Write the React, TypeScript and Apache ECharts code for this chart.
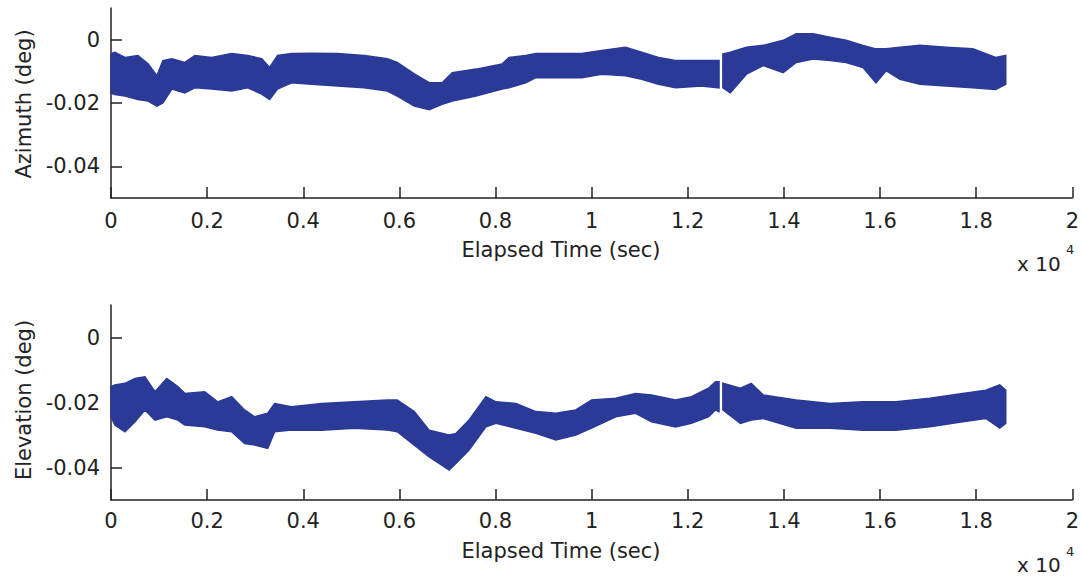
import React, { useEffect, useRef } from "react";
import * as echarts from "echarts";

// ---- Azimuth band (upper / lower envelope), time in seconds ----
const azTime = [0, 80, 290, 560, 770, 955, 1080, 1265, 1535, 1745, 2095, 2510, 2845, 3135, 3300, 3465, 3755, 4170, 4710, 5270, 5750, 5955, 6310, 6620, 6890, 7100, 7595, 8135, 8280, 8630, 8840, 9315, 9795, 10210, 10705, 11040, 11390, 11745, 12285, 12650, 12690, 12730, 12885, 13220, 13570, 13985, 14255, 14610, 14960, 15295, 15645, 15915, 16125, 16415, 16830, 17370, 17930, 18405, 18615];
const azUpper = [-0.0044, -0.004, -0.0056, -0.005, -0.0076, -0.0114, -0.0066, -0.006, -0.0072, -0.005, -0.0056, -0.0044, -0.005, -0.006, -0.0088, -0.005, -0.0044, -0.0043, -0.0044, -0.005, -0.006, -0.0072, -0.0108, -0.0136, -0.0136, -0.0104, -0.0093, -0.0077, -0.0056, -0.005, -0.0044, -0.0044, -0.0044, -0.0034, -0.0024, -0.004, -0.0056, -0.0066, -0.0066, -0.0066, null, -0.0045, -0.004, -0.0024, -0.0018, -0.0002, 0.0019, 0.0019, 0.0008, -0.0002, -0.0018, -0.0029, -0.0029, -0.0024, -0.0018, -0.0024, -0.0029, -0.0056, -0.005];
const azLower = [-0.0169, -0.0173, -0.0178, -0.0189, -0.0194, -0.021, -0.02, -0.0156, -0.0168, -0.0152, -0.0156, -0.0162, -0.0152, -0.0172, -0.0189, -0.0156, -0.0136, -0.0141, -0.0146, -0.0152, -0.0162, -0.0178, -0.021, -0.0221, -0.0204, -0.0194, -0.0178, -0.0156, -0.0152, -0.0136, -0.012, -0.012, -0.012, -0.0109, -0.0114, -0.0125, -0.0141, -0.0152, -0.0146, -0.0152, null, -0.0152, -0.0168, -0.0109, -0.0082, -0.0104, -0.0072, -0.0061, -0.0066, -0.0072, -0.0088, -0.0136, -0.0098, -0.0125, -0.0141, -0.0146, -0.0152, -0.0157, -0.0141];

// ---- Elevation band ----
const elTime = [0, 80, 290, 500, 705, 915, 1160, 1390, 1535, 1950, 2220, 2510, 2780, 2990, 3260, 3405, 3755, 4380, 5065, 5750, 5955, 6310, 6620, 7035, 7180, 7450, 7800, 8010, 8425, 8840, 9255, 9670, 10000, 10500, 10915, 11245, 11745, 12075, 12430, 12575, 12650, 12690, 12730, 13095, 13320, 13570, 14255, 14960, 15645, 16330, 17035, 17720, 18200, 18490, 18615];
const elUpper = [-0.0151, -0.0146, -0.0141, -0.0126, -0.0121, -0.0167, -0.0126, -0.0151, -0.0172, -0.0167, -0.0198, -0.0182, -0.0223, -0.0244, -0.0233, -0.0203, -0.0213, -0.0203, -0.0198, -0.0192, -0.0192, -0.0228, -0.0285, -0.03, -0.0295, -0.0254, -0.0182, -0.0198, -0.0203, -0.0228, -0.0233, -0.0223, -0.0192, -0.0187, -0.0172, -0.0177, -0.0192, -0.0182, -0.0156, -0.0136, -0.0136, null, -0.0141, -0.0156, -0.0141, -0.0177, -0.0192, -0.0203, -0.0198, -0.0198, -0.0187, -0.0172, -0.0162, -0.0146, -0.0162];
const elLower = [-0.0244, -0.0269, -0.029, -0.0259, -0.0223, -0.0254, -0.0244, -0.0254, -0.0269, -0.0275, -0.0285, -0.029, -0.0326, -0.0331, -0.0341, -0.029, -0.0285, -0.0285, -0.0279, -0.0285, -0.029, -0.0331, -0.0367, -0.0408, -0.0387, -0.0346, -0.0275, -0.0264, -0.0279, -0.0295, -0.0315, -0.03, -0.0279, -0.0244, -0.0233, -0.0259, -0.0275, -0.0264, -0.0244, -0.0223, -0.0228, null, -0.0223, -0.0264, -0.0254, -0.0249, -0.0279, -0.0279, -0.0285, -0.0285, -0.0275, -0.0259, -0.0249, -0.0279, -0.0264];

// ---- Axis ticks ----
const yTickValues = [0, -0.02, -0.04];
const xTickValues = [0, 2000, 4000, 6000, 8000, 10000, 12000, 14000, 16000, 18000, 20000];

const BAND = "#2b3a97";
const TEXT = "#222";
const FONT = "DejaVu Sans";

function segmentsOf(upper: (number | null)[]): number[][] {
  const segs: number[][] = [];
  let cur: number[] = [];
  upper.forEach((v, i) => {
    if (v == null) {
      if (cur.length) segs.push(cur);
      cur = [];
    } else cur.push(i);
  });
  if (cur.length) segs.push(cur);
  return segs;
}

function bandSeries(time: number[], upper: (number | null)[], lower: (number | null)[], idx: number) {
  const segs = segmentsOf(upper);
  return {
    type: "custom",
    xAxisIndex: idx,
    yAxisIndex: idx,
    silent: true,
    data: segs.map((_, i) => [i, 0]),
    renderItem: (params: any, api: any) => {
      const seg = segs[params.dataIndex];
      const top = seg.map((i) => api.coord([time[i], upper[i]]));
      const bot = seg.slice().reverse().map((i) => api.coord([time[i], lower[i]]));
      return {
        type: "polygon",
        shape: { points: top.concat(bot) },
        style: { fill: BAND, stroke: BAND, lineWidth: 1.5 },
      };
    },
  };
}

function xAxisCfg(idx: number, margin: number) {
  return {
    gridIndex: idx,
    type: "value",
    min: 0,
    max: 20000,
    interval: 2000,
    axisLine: { show: true, onZero: false, lineStyle: { color: TEXT, width: 1.5 } },
    axisTick: { show: true, inside: true, length: 11, customValues: xTickValues, lineStyle: { color: TEXT, width: 1.5 } },
    axisLabel: {
      show: true,
      customValues: xTickValues,
      margin,
      color: TEXT,
      fontSize: 21,
      fontFamily: FONT,
      formatter: (v: number) => String(parseFloat((v / 10000).toFixed(1))),
    },
    splitLine: { show: false },
  };
}

function yAxisCfg(idx: number) {
  return {
    gridIndex: idx,
    type: "value",
    min: -0.05,
    max: 0.01,
    axisLine: { show: true, onZero: false, lineStyle: { color: TEXT, width: 1.5 } },
    axisTick: { show: true, inside: true, length: 11, customValues: yTickValues, lineStyle: { color: TEXT, width: 1.5 } },
    axisLabel: {
      show: true,
      customValues: yTickValues,
      margin: 11,
      color: TEXT,
      fontSize: 21,
      fontFamily: FONT,
      formatter: (v: number) => String(parseFloat(v.toFixed(2))),
    },
    splitLine: { show: false },
  };
}

function txt(text: string, x: number, y: number, size: number, extra: any = {}) {
  return {
    type: "text",
    x,
    y,
    silent: true,
    ...extra,
    style: {
      text,
      fill: TEXT,
      fontSize: size,
      fontFamily: FONT,
      align: extra.align || "center",
      verticalAlign: "middle",
    },
  };
}

export default function App() {
  const ref = useRef<HTMLDivElement>(null);
  useEffect(() => {
    if (!ref.current) return;
    const chart = echarts.init(ref.current, null, { renderer: "svg" });
    chart.setOption({
      animation: false,
      backgroundColor: "#ffffff",
      grid: [
        { left: 111, top: 8, width: 964, height: 190 },
        { left: 111, top: 305, width: 964, height: 195 },
      ],
      xAxis: [xAxisCfg(0, 12), xAxisCfg(1, 10)],
      yAxis: [yAxisCfg(0), yAxisCfg(1)],
      series: [
        bandSeries(azTime, azUpper, azLower, 0),
        bandSeries(elTime, elUpper, elLower, 1),
      ],
      graphic: [
        txt("Azimuth (deg)", 24, 104, 21, { rotation: Math.PI / 2 }),
        txt("Elevation (deg)", 24, 400, 21, { rotation: Math.PI / 2 }),
        txt("Elapsed Time (sec)", 561, 250, 21),
        txt("Elapsed Time (sec)", 561, 551, 21),
        txt("x 10", 1017, 264, 20, { align: "left" }),
        txt("4", 1066, 249, 13, { align: "left" }),
        txt("x 10", 1017, 565, 20, { align: "left" }),
        txt("4", 1066, 551, 13, { align: "left" }),
      ],
    });
    return () => chart.dispose();
  }, []);
  return (
    <div
      ref={ref}
      style={{ position: "fixed", left: 0, top: 0, width: 1082, height: 577, background: "#fff" }}
    />
  );
}
